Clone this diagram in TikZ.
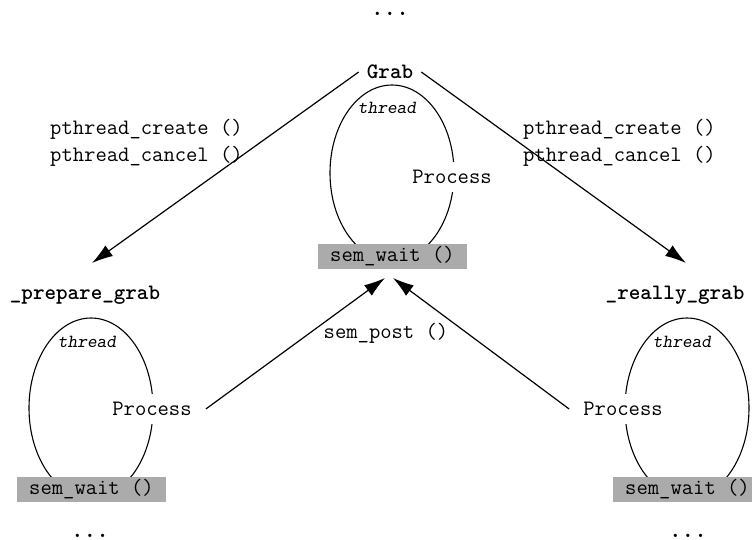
\documentclass[tikz,border=0pt]{standalone}
\usetikzlibrary{arrows.meta}
\tikzset{
  txt/.style={font=\fontsize{22}{26}\selectfont\ttfamily, inner sep=0pt},
  bold/.style={font=\fontsize{22}{26}\selectfont\ttfamily\bfseries, inner sep=8pt},
  dots/.style={font=\fontsize{24}{26}\selectfont\ttfamily\bfseries, inner sep=0pt, anchor=base},
  thr/.style={font=\fontsize{18.5}{22}\selectfont\ttfamily\slshape, inner sep=0pt},
  proc/.style={font=\fontsize{22}{26}\selectfont\ttfamily, fill=white, inner xsep=14pt, inner ysep=8pt},
  waitbox/.style={font=\fontsize{22}{26}\selectfont\ttfamily, fill=black!33, minimum width=149pt, minimum height=25pt, inner sep=0pt},
  loop/.style={line width=1.1pt},
  conn/.style={line width=1.2pt, -{Latex[length=21pt,width=13pt]}},
}
\begin{document}
\begin{tikzpicture}[x=1pt,y=-1pt]
\useasboundingbox (0,0) rectangle (752,539);
% top
\node[dots] (dtop) at (390,15) {...};
\node[bold] (grab) at (390,72) {Grab};
% center thread
\draw[loop] (392,173) ellipse [x radius=62, y radius=88];
\node[thr] (thc) at (387,108) {thread};
\node[proc] (pc) at (452,177) {Process};
\node[waitbox] (wc) at (392.5,256.5) {sem\_wait ()};
% left thread
\node[bold, inner sep=0pt] (lprep) at (85,295) {\_prepare\_grab};
\draw[loop] (91,408) ellipse [x radius=62, y radius=90];
\node[thr] (thl) at (87,342) {thread};
\node[proc] (pl) at (152,409) {Process};
\node[waitbox] (wl) at (91.5,489.5) {sem\_wait ()};
\node[dots] (dl) at (90,537) {...};
% right thread
\node[bold, inner sep=0pt] (rgrab) at (675,295) {\_really\_grab};
\draw[loop] (687,408) ellipse [x radius=62, y radius=90];
\node[thr] (thr) at (682,342) {thread};
\node[proc] (pr) at (623,409) {Process};
\node[waitbox] (wr) at (687.5,489.5) {sem\_wait ()};
\node[dots] (dr) at (688,537) {...};
% labels
\node[txt, anchor=west] (lc1) at (50,129) {pthread\_create ()};
\node[txt, anchor=west] (lc2) at (50,156) {pthread\_cancel ()};
\node[txt, anchor=west] (rc1) at (523,129) {pthread\_create ()};
\node[txt, anchor=west] (rc2) at (523,156) {pthread\_cancel ()};
\node[txt] (post) at (386,333) {sem\_post ()};
% connectors
\coordinate (al) at (92,263);
\coordinate (ar) at (686,263);
\coordinate (tl) at (385,278);
\coordinate (tr) at (393,278);
\draw[conn] (grab.west) -- (al);
\draw[conn] (grab.east) -- (ar);
\draw[conn] (pl.east) -- (tl);
\draw[conn] (pr.west) -- (tr);
\end{tikzpicture}
\end{document}
